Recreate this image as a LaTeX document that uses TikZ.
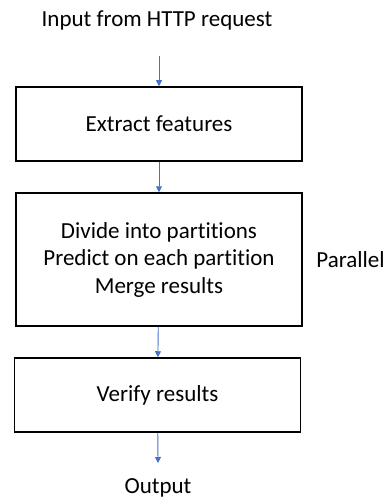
\documentclass[tikz,border=0pt]{standalone}
\usepackage{fontspec}
\setmainfont[Ligatures=NoCommon]{Carlito}
\usepackage{tikz}
\usetikzlibrary{arrows.meta}

\definecolor{flowblue}{RGB}{68,114,196}

\begin{document}
\begin{tikzpicture}
  [x=1pt,y=-1pt,
   every node/.style={font=\fontsize{23}{27.5}\selectfont,align=center},
   stepbox/.style={draw,line width=1.5pt,minimum width=286pt},
   flow/.style={draw=flowblue,line width=.9pt,-{Triangle[length=6pt,width=6pt]}}]
  \useasboundingbox (0,0) rectangle (386,500);

  \node[anchor=base] (in) at (157,27) {Input from HTTP request};
  \coordinate (src) at (159,56);

  \node[stepbox,minimum height=74pt] (extract) at (159,124) {Extract features};
  \node[stepbox,minimum height=133pt] (divide) at (159,259.5)
    {Divide into partitions\\Predict on each partition\\Merge results};
  \node[stepbox,minimum height=74pt] (verify) at (157.5,395) {Verify results};
  \node[anchor=base] (par) at (350.5,267) {Parallel};

  \coordinate (sink) at (158,463);
  \node[anchor=base] (out) at (158,493) {Output};

  \foreach \from/\to in {src/extract,extract/divide,divide/verify,verify/sink}
    \draw[flow] (\from) -- (\to);

\end{tikzpicture}
\end{document}
